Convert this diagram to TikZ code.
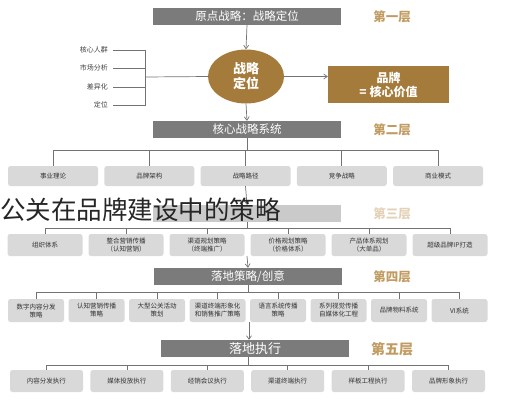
\documentclass[tikz,border=0pt]{standalone}
\usepackage{fontspec}
\setmainfont{Noto Sans CJK SC}
\usetikzlibrary{arrows.meta,shapes}
\definecolor{barc}{HTML}{7B7B7B}
\definecolor{brownc}{HTML}{A57B3B}
\definecolor{goldc}{HTML}{C19C62}
\definecolor{boxc}{HTML}{D9D9D9}
\newcommand{\linew}{0.7pt}
\newcommand{\boxfont}{\fontsize{6.5}{8}\selectfont}

\begin{document}
\begin{tikzpicture}[x=1pt, y=-1pt,
    bar/.style={fill=barc, text=white, minimum width=188pt, minimum height=17pt, inner sep=0pt, font=\fontsize{11.5}{13}\selectfont},
    layer/.style={text=goldc, font=\fontsize{12.5}{14}\selectfont\bfseries},
    item/.style={fill=boxc, rounded corners=2.5pt, inner sep=1pt, align=center, font=\boxfont, text=black!80},
    keyw/.style={anchor=east, inner sep=2pt, font=\fontsize{7}{8}\selectfont, text=black!75},
    link/.style={draw=black!55, line width=\linew},
    arr/.style={link, -{Straight Barb[length=3.5pt, width=5pt]}}]
    %\draw[help lines, step=10] (0,0) grid (527,400);
    \useasboundingbox (0,0) rectangle (527,400);

    % first layer
    \node[bar] (b1) at (247,16.5) {原点战略：战略定位};
    \node[layer] (n1) at (392,17) {第一层};
    \node[ellipse, fill=brownc, text=white, minimum width=76pt, minimum height=54pt, inner sep=0pt, align=center, font=\fontsize{13}{15}\selectfont\bfseries] (core) at (246,76.5) {战略\\定位};
    \node[fill=brownc, text=white, minimum width=121pt, minimum height=37pt, inner sep=0pt, align=center, font=\fontsize{12}{14}\selectfont\bfseries] (brand) at (388.5,84.5) {品牌\\= 核心价值};
    \node[keyw] (k1) at (110,50) {核心人群};
    \node[keyw] (k2) at (110,68) {市场分析};
    \node[keyw] (k3) at (110,87) {差异化};
    \node[keyw] (k4) at (110,105) {定位};
    \coordinate (br) at (145,77);
    \draw[link] (k1.east) ++(3,0) -- (k1.east -| br) -- (k4.east -| br) -- ++(-32,0);
    \draw[link] (k2.east) ++(3,0) -- (k2.east -| br);
    \draw[link] (k3.east) ++(3,0) -- (k3.east -| br);
    \draw[link] (br) -- (core.west);
    \draw[arr] (b1.south) -- (core.north);
    \draw[arr] (core.east) -- (core.east -| brand.west);

    % second layer
    \node[bar] (b2) at (247,129.5) {核心战略系统};
    \node[layer] (n2) at (392,130) {第二层};
    \draw[arr] (core.south) -- (b2.north);
    \foreach \t [count=\i] in {事业理论,品牌架构,战略路径,竞争战略,商业模式}
        \node[item, minimum width=90pt, minimum height=20pt] (p\i) at ({53+(\i-1)*96.25},176) {\t};
    \draw[link] (b2.south) -- ++(0,12) coordinate (h2);
    \draw[link] (p1.north |- h2) -- (p5.north |- h2);
    \foreach \i in {1,...,5}
        \draw[link] (p\i.north |- h2) -- (p\i.north);

    % third layer
    \node[bar, fill=barc!40] (b3) at (247,213.5) {};
    \node[layer, text=goldc!45] (n3) at (392,214) {第三层};
    \draw[arr] (p3.south) -- (b3.north);
    \foreach \t [count=\i] in {组织体系,{整合营销传播\\（认知营销）},{渠道规划策略\\（终端推广）},{价格规划策略\\（价格体系）},{产品体系规划\\（大单品）},超级品牌IP打造}
        \node[item, minimum width=75pt, minimum height=22pt] (q\i) at ({45+(\i-1)*81},245) {\t};
    \draw[link] (b3.south) -- ++(0,6) coordinate (h3);
    \draw[link] (q1.north |- h3) -- (q6.north |- h3);
    \foreach \i in {1,...,6}
        \draw[link] (q\i.north |- h3) -- (q\i.north);

    % fourth layer
    \node[bar] (b4) at (248,276.5) {落地策略/创意};
    \node[layer] (n4) at (392,277) {第四层};
    \coordinate (g3) at (247,256);
    \draw[arr] (g3) -- (b4.north);
    \foreach \t [count=\i] in {{数字内容分发\\策略},{认知营销传播\\策略},{大型公关活动\\策划},{渠道终端形象化\\和销售推广策略},{语言系统传播\\策略},{系列视觉传播\\自媒体化工程},品牌物料系统,VI系统}
        \node[item, minimum width=56pt, minimum height=23pt] (r\i) at ({36+(\i-1)*60.5},310.5) {\t};
    \draw[link] (b4.south) -- ++(0,7) coordinate (h4);
    \draw[link] (r1.north |- h4) -- (r8.north |- h4);
    \foreach \i in {1,...,8}
        \draw[link] (r\i.north |- h4) -- (r\i.north);

    % fifth layer
    \node[bar, font=\fontsize{13}{14}\selectfont] (b5) at (255,348.5) {落地执行};
    \node[layer, font=\fontsize{14}{15}\selectfont\bfseries] (n5) at (392,349) {第五层};
    \coordinate (g4) at (249,322);
    \draw[arr] (g4) -- (g4 |- b5.north);
    \foreach \t [count=\i] in {内容分发执行,媒体投放执行,经销会议执行,渠道终端执行,样板工程执行,品牌形象执行}
        \node[item, minimum width=73pt, minimum height=22pt] (s\i) at ({46.5+(\i-1)*80.4},381) {\t};
    \coordinate (h5) at (248,365);
    \draw[link] (h5 |- b5.south) -- (h5);
    \draw[link] (s1.north |- h5) -- (s6.north |- h5);
    \foreach \i in {1,...,6}
        \draw[link] (s\i.north |- h5) -- (s\i.north);

    % title over the chart
    \node[anchor=west, inner sep=0pt, text=black!85, font=\fontsize{25.5}{27}\selectfont] (title) at (0,210) {公关在品牌建设中的策略};
\end{tikzpicture}
\end{document}
